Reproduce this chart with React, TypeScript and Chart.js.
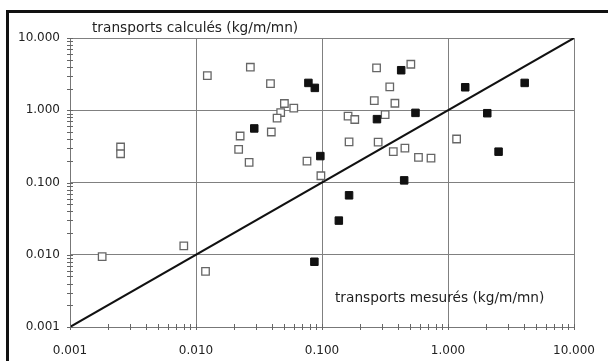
import React, { useEffect, useRef } from "react";
import { Chart, registerables } from "chart.js";

Chart.register(...registerables);

const axisMin = 0.001;
const axisMax = 10;
const tickLabels = ["0.001", "0.010", "0.100", "1.000", "10.000"];

const openX = [0.00252, 0.00252, 0.0018, 0.008, 0.0119, 0.0123, 0.027, 0.039, 0.0503, 0.0597, 0.047, 0.044, 0.0224, 0.0396, 0.0218, 0.0264, 0.076, 0.098, 0.161, 0.182, 0.164, 0.271, 0.507, 0.345, 0.26, 0.379, 0.317, 0.279, 0.368, 0.455, 0.583, 0.733, 1.17];
const openY = [0.31, 0.25, 0.0094, 0.0133, 0.0059, 3.02, 3.94, 2.34, 1.24, 1.07, 0.93, 0.78, 0.44, 0.5, 0.287, 0.19, 0.198, 0.124, 0.83, 0.745, 0.366, 3.85, 4.33, 2.1, 1.36, 1.25, 0.87, 0.362, 0.267, 0.3, 0.223, 0.218, 0.4];

const filledX = [0.029, 0.078, 0.0877, 0.097, 0.087, 0.136, 0.164, 0.449, 0.273, 0.425, 0.552, 1.37, 2.05, 2.52, 4.06];
const filledY = [0.56, 2.39, 2.04, 0.232, 0.008, 0.0297, 0.0665, 0.107, 0.753, 3.58, 0.92, 2.08, 0.91, 0.267, 2.39];

const yTitle = "transports calculés (kg/m/mn)";
const xTitle = "transports mesurés (kg/m/mn)";

const isDecade = (v: number) => Math.abs(Math.log10(v) - Math.round(Math.log10(v))) < 1e-6;
const decadeLabel = (v: number) => tickLabels[Math.round(Math.log10(v)) + 3] ?? "";

const decorPlugin = {
  id: "decor",
  afterDraw(chart: any) {
    const ctx = chart.ctx;
    const area = chart.chartArea;
    const xs = chart.scales.x;
    const ys = chart.scales.y;
    ctx.save();
    // minor tick marks crossing the axes
    ctx.strokeStyle = "#666";
    ctx.lineWidth = 1;
    for (let e = -3; e < 1; e++) {
      for (let m = 1; m <= 10; m++) {
        const v = m * Math.pow(10, e);
        const px = Math.round(xs.getPixelForValue(v)) + 0.5;
        const py = Math.round(ys.getPixelForValue(v)) + 0.5;
        ctx.beginPath();
        ctx.moveTo(px, area.bottom - 3);
        ctx.lineTo(px, area.bottom + 3);
        ctx.moveTo(area.left - 3, py);
        ctx.lineTo(area.left + 3, py);
        ctx.stroke();
      }
    }
    // titles inside the plot
    ctx.fillStyle = "#222";
    ctx.font = "13.7px 'DejaVu Sans'";
    ctx.textBaseline = "middle";
    ctx.textAlign = "left";
    ctx.fillText(yTitle, area.left + 22, area.top - 10);
    ctx.fillText(xTitle, area.left + 265, area.bottom - 29);
    // outer frame
    ctx.strokeStyle = "#111";
    ctx.lineWidth = 3;
    ctx.strokeRect(7.5, 11.5, 800, 800);
    ctx.restore();
  },
};

export default function App() {
  const ref = useRef<HTMLCanvasElement | null>(null);
  useEffect(() => {
    if (!ref.current) return;
    const tickFont = { family: "'DejaVu Sans'", size: 12 };
    const chart = new Chart(ref.current, {
      type: "scatter",
      data: {
        datasets: [
          {
            type: "line",
            data: [
              { x: axisMin, y: axisMin },
              { x: axisMax, y: axisMax },
            ],
            borderColor: "#111",
            borderWidth: 2,
            pointRadius: 0,
            order: 3,
          } as any,
          {
            data: openX.map((x, i) => ({ x, y: openY[i] })),
            pointStyle: "rect",
            pointRadius: 5.3,
            backgroundColor: "#fff",
            borderColor: "#666",
            borderWidth: 1.3,
            order: 1,
          },
          {
            data: filledX.map((x, i) => ({ x, y: filledY[i] })),
            pointStyle: "rect",
            pointRadius: 5.3,
            backgroundColor: "#111",
            borderColor: "#111",
            borderWidth: 1,
            order: 0,
          },
        ],
      },
      options: {
        responsive: false,
        animation: false,
        layout: { padding: { top: 38, right: 34, left: 0, bottom: 0 } },
        plugins: { legend: { display: false }, tooltip: { enabled: false } },
        scales: {
          x: {
            type: "logarithmic",
            min: axisMin,
            max: axisMax,
            afterFit: (s: any) => {
              s.height = 34;
              s.paddingLeft = 0;
              s.paddingRight = 0;
            },
            grid: {
              drawTicks: false,
              color: (c: any) => (c.tick && isDecade(c.tick.value) ? "#808080" : "rgba(0,0,0,0)"),
              lineWidth: 1,
            },
            border: { display: true, color: "#777", width: 1 },
            ticks: {
              autoSkip: false,
              maxRotation: 0,
              padding: 17,
              color: "#222",
              font: tickFont,
              callback: (v: any) => (isDecade(Number(v)) ? decadeLabel(Number(v)) : ""),
            },
          },
          y: {
            type: "logarithmic",
            min: axisMin,
            max: axisMax,
            afterFit: (s: any) => {
              s.width = 70;
              s.paddingTop = 0;
              s.paddingBottom = 0;
            },
            grid: {
              drawTicks: false,
              color: (c: any) => (c.tick && isDecade(c.tick.value) ? "#808080" : "rgba(0,0,0,0)"),
              lineWidth: 1,
            },
            border: { display: true, color: "#777", width: 1 },
            ticks: {
              autoSkip: false,
              padding: 10,
              color: "#222",
              font: tickFont,
              callback: (v: any) => (isDecade(Number(v)) ? decadeLabel(Number(v)) : ""),
            },
          },
        },
      },
      plugins: [decorPlugin],
    });
    return () => chart.destroy();
  }, []);
  return (
    <div style={{ position: "fixed", left: 0, top: 0, width: 608, height: 361, background: "#fff" }}>
      <canvas ref={ref} width={608} height={361} style={{ display: "block", width: 608, height: 361 }} />
    </div>
  );
}
